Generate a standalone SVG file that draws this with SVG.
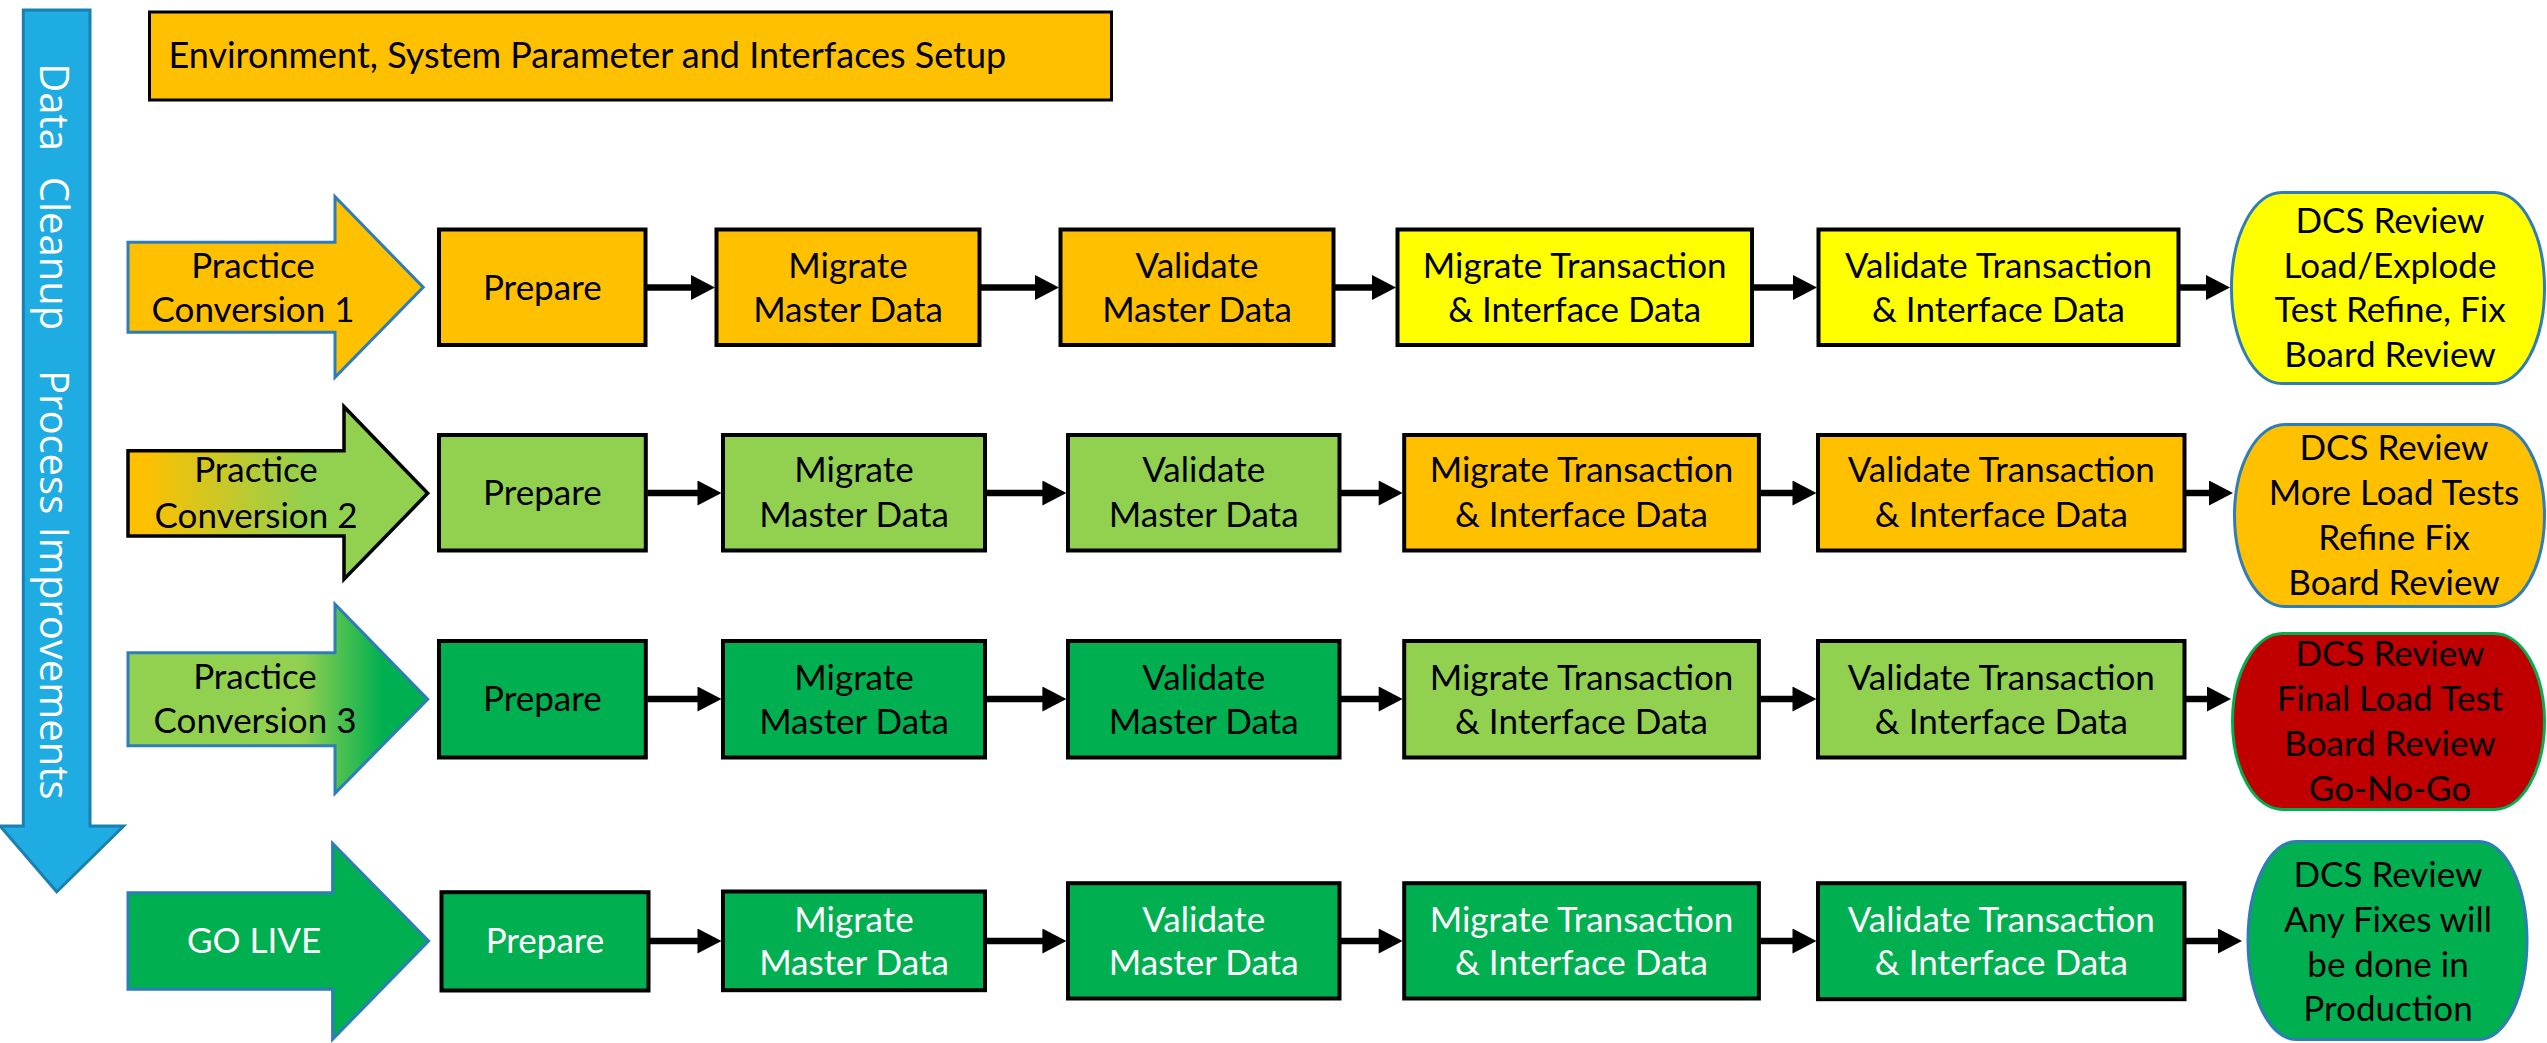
<svg xmlns="http://www.w3.org/2000/svg" width="2547" height="1043" viewBox="0 0 2547 1043">
<style>
.bx{stroke:#000;stroke-width:4}
.t{font-family:Lato,"Liberation Sans",sans-serif;font-size:35px;text-anchor:middle;fill:#000}
.w{fill:#fff}
.cn{stroke:#000;stroke-width:6.5;fill:none;marker-end:url(#ah)}
.or{fill:#FFC000}.ye{fill:#FFFF00}.lg{fill:#92D050}.dg{fill:#00B050}.rd{fill:#C00000}
.bl{stroke:#2E7DB8;stroke-width:3}
.gs{stroke:#00B050;stroke-width:3}
</style>
<defs>
<marker id="ah" markerUnits="userSpaceOnUse" markerWidth="25" markerHeight="25" viewBox="0 0 24 25" refX="1" refY="12.5" orient="auto"><path d="M0,0 L24,12.5 L0,25 z" fill="#000"/></marker>
<linearGradient id="g2" x1="0" y1="0" x2="1" y2="0"><stop offset="0.05" stop-color="#FFC000"/><stop offset="0.6" stop-color="#92D050"/></linearGradient>
<linearGradient id="g3" x1="0" y1="0" x2="1" y2="0"><stop offset="0.58" stop-color="#92D050"/><stop offset="0.85" stop-color="#00B050"/></linearGradient>
</defs>

<g id="cleanup-arrow">
<polygon points="23.3,10 90,10 90,826 123.7,826 56.7,891.7 0,826 23.3,826" fill="#1FACE3" stroke="#1A80B2" stroke-width="3"/>
<text transform="translate(39.5,63.3) rotate(90)" style="font-family:'Open Sans',Roboto,sans-serif;font-size:40px;fill:#fff"><tspan x="0">Data</tspan><tspan x="113.4">Cleanup</tspan><tspan x="306.7">Process</tspan><tspan x="463.4">Improvements</tspan></text>
</g>

<g id="setup">
<rect x="149.5" y="12" width="962" height="88" class="or" stroke="#000" stroke-width="3"/>
<text x="168.4" y="68.3" class="t" style="text-anchor:start;font-size:36px">Environment, System Parameter and Interfaces Setup</text>
</g>

<!-- Row 1 -->
<g id="pc1">
<polygon points="128,242.3 335,242.3 335,196.7 423.2,287.3 335,377.3 335,332.3 128,332.3" class="or bl"/>
<text class="t"><tspan x="253" y="277.7">Practice</tspan><tspan x="253" y="321.7">Conversion 1</tspan></text>
</g>
<g id="r1-prepare"><rect x="439" y="229.5" width="206.5" height="115.5" class="bx or"/><text x="542.3" y="299.5" class="t">Prepare</text></g>
<g id="r1-migrate"><rect x="716.5" y="229.5" width="263" height="115.5" class="bx or"/><text class="t"><tspan x="848" y="277.5">Migrate</tspan><tspan x="848" y="321.5">Master Data</tspan></text></g>
<g id="r1-validate"><rect x="1060.5" y="229.5" width="273" height="115.5" class="bx or"/><text class="t"><tspan x="1197" y="277.5">Validate</tspan><tspan x="1197" y="321.5">Master Data</tspan></text></g>
<g id="r1-migtrans"><rect x="1397.5" y="229.5" width="354.5" height="115.5" class="bx ye"/><text class="t"><tspan x="1574.7" y="277.5">Migrate Transaction</tspan><tspan x="1574.7" y="321.5">&amp; Interface Data</tspan></text></g>
<g id="r1-valtrans"><rect x="1818.5" y="229.5" width="360" height="115.5" class="bx ye"/><text class="t"><tspan x="1998.5" y="277.5">Validate Transaction</tspan><tspan x="1998.5" y="321.5">&amp; Interface Data</tspan></text></g>
<g id="r1-dcs"><rect x="2231.5" y="192.5" width="313" height="191" rx="50" ry="95" class="ye bl"/><text class="t"><tspan x="2390" y="233">DCS Review</tspan><tspan x="2390" y="277.5">Load/Explode</tspan><tspan x="2390" y="322">Test Refine, Fix</tspan><tspan x="2390" y="366.5">Board Review</tspan></text></g>

<!-- Row 2 -->
<g id="pc2">
<polygon points="128,450.7 344,450.7 344,406.7 427.7,493.3 344,579.3 344,536 128,536" fill="url(#g2)" stroke="#000" stroke-width="3.5"/>
<text class="t"><tspan x="256" y="482">Practice</tspan><tspan x="256" y="527.7">Conversion 2</tspan></text>
</g>
<g id="r2-prepare"><rect x="439" y="435" width="206.8" height="115.5" class="bx lg"/><text x="542.4" y="505" class="t">Prepare</text></g>
<g id="r2-migrate"><rect x="723" y="435" width="262" height="115.5" class="bx lg"/><text class="t"><tspan x="854" y="482">Migrate</tspan><tspan x="854" y="527">Master Data</tspan></text></g>
<g id="r2-validate"><rect x="1068" y="435" width="271.5" height="115.5" class="bx lg"/><text class="t"><tspan x="1203.7" y="482">Validate</tspan><tspan x="1203.7" y="527">Master Data</tspan></text></g>
<g id="r2-migtrans"><rect x="1404.2" y="435" width="354.7" height="115.5" class="bx or"/><text class="t"><tspan x="1581.5" y="482">Migrate Transaction</tspan><tspan x="1581.5" y="527">&amp; Interface Data</tspan></text></g>
<g id="r2-valtrans"><rect x="1818" y="435" width="366.5" height="115.5" class="bx or"/><text class="t"><tspan x="2001.3" y="482">Validate Transaction</tspan><tspan x="2001.3" y="527">&amp; Interface Data</tspan></text></g>
<g id="r2-dcs"><rect x="2234.5" y="424.5" width="310" height="182" rx="50" ry="91" class="or bl"/><text class="t"><tspan x="2394" y="460">DCS Review</tspan><tspan x="2394" y="505">More Load Tests</tspan><tspan x="2394" y="550">Refine Fix</tspan><tspan x="2394" y="595">Board Review</tspan></text></g>

<!-- Row 3 -->
<g id="pc3">
<polygon points="128,652.7 335,652.7 335,604.3 427.7,699.3 335,793.3 335,745.7 128,745.7" fill="url(#g3)" class="bl"/>
<text class="t"><tspan x="255" y="689.3">Practice</tspan><tspan x="255" y="733.3">Conversion 3</tspan></text>
</g>
<g id="r3-prepare"><rect x="439" y="641" width="206.8" height="116.5" class="bx dg"/><text x="542.4" y="711" class="t">Prepare</text></g>
<g id="r3-migrate"><rect x="723" y="641" width="262" height="116.5" class="bx dg"/><text class="t"><tspan x="854" y="690">Migrate</tspan><tspan x="854" y="733.5">Master Data</tspan></text></g>
<g id="r3-validate"><rect x="1068" y="641" width="271.5" height="116.5" class="bx dg"/><text class="t"><tspan x="1203.7" y="690">Validate</tspan><tspan x="1203.7" y="733.5">Master Data</tspan></text></g>
<g id="r3-migtrans"><rect x="1404.2" y="641" width="354.7" height="116.5" class="bx lg"/><text class="t"><tspan x="1581.5" y="690">Migrate Transaction</tspan><tspan x="1581.5" y="733.5">&amp; Interface Data</tspan></text></g>
<g id="r3-valtrans"><rect x="1818" y="641" width="366.5" height="116.5" class="bx lg"/><text class="t"><tspan x="2001.3" y="690">Validate Transaction</tspan><tspan x="2001.3" y="733.5">&amp; Interface Data</tspan></text></g>
<g id="r3-dcs"><rect x="2232.5" y="633.5" width="312" height="176" rx="50" ry="88" class="rd gs"/><text class="t"><tspan x="2390" y="666">DCS Review</tspan><tspan x="2390" y="711">Final Load Test</tspan><tspan x="2390" y="756">Board Review</tspan><tspan x="2390" y="801">Go-No-Go</tspan></text></g>

<!-- Row 4 -->
<g id="golive">
<polygon points="128,892.7 332.6,892.7 332.6,843.3 428.6,941 332.6,1039.3 332.6,989.3 128,989.3" class="dg bl"/>
<text x="254" y="953.3" class="t w">GO LIVE</text>
</g>
<g id="r4-prepare"><rect x="441.5" y="892.2" width="207" height="98.3" class="bx dg"/><text x="545" y="953" class="t w">Prepare</text></g>
<g id="r4-migrate"><rect x="723" y="891.5" width="262" height="98.7" class="bx dg"/><text class="t w"><tspan x="854" y="931.7">Migrate</tspan><tspan x="854" y="975">Master Data</tspan></text></g>
<g id="r4-validate"><rect x="1068" y="883.2" width="271.5" height="115.3" class="bx dg"/><text class="t w"><tspan x="1203.7" y="931.7">Validate</tspan><tspan x="1203.7" y="975">Master Data</tspan></text></g>
<g id="r4-migtrans"><rect x="1404.2" y="883.2" width="354.7" height="115.3" class="bx dg"/><text class="t w"><tspan x="1581.5" y="931.7">Migrate Transaction</tspan><tspan x="1581.5" y="975">&amp; Interface Data</tspan></text></g>
<g id="r4-valtrans"><rect x="1818" y="883.2" width="366.5" height="116" class="bx dg"/><text class="t w"><tspan x="2001.3" y="931.7">Validate Transaction</tspan><tspan x="2001.3" y="975">&amp; Interface Data</tspan></text></g>
<g id="r4-dcs"><rect x="2248" y="841.5" width="279" height="198" rx="48" ry="99" class="dg bl"/><text class="t"><tspan x="2388" y="886.7">DCS Review</tspan><tspan x="2388" y="931.5">Any Fixes will</tspan><tspan x="2388" y="976.5">be done in</tspan><tspan x="2388" y="1021">Production</tspan></text></g>

<g id="connectors">
<line x1="647" y1="287.5" x2="692" y2="287.5" class="cn"/>
<line x1="981" y1="287.5" x2="1036" y2="287.5" class="cn"/>
<line x1="1335" y1="287.5" x2="1373" y2="287.5" class="cn"/>
<line x1="1753.5" y1="287.5" x2="1794" y2="287.5" class="cn"/>
<line x1="2180" y1="287.5" x2="2207" y2="287.5" class="cn"/>

<line x1="647.3" y1="493" x2="698.5" y2="493" class="cn"/>
<line x1="986.4" y1="493" x2="1043.4" y2="493" class="cn"/>
<line x1="1341" y1="493" x2="1379.7" y2="493" class="cn"/>
<line x1="1760.4" y1="493" x2="1793.5" y2="493" class="cn"/>
<line x1="2186" y1="493" x2="2210" y2="493" class="cn"/>

<line x1="647.3" y1="699" x2="698.5" y2="699" class="cn"/>
<line x1="986.4" y1="699" x2="1043.4" y2="699" class="cn"/>
<line x1="1341" y1="699" x2="1379.7" y2="699" class="cn"/>
<line x1="1760.4" y1="699" x2="1793.5" y2="699" class="cn"/>
<line x1="2185.8" y1="699" x2="2208" y2="699" class="cn"/>

<line x1="650" y1="941" x2="698.5" y2="941" class="cn"/>
<line x1="986.4" y1="941" x2="1043.4" y2="941" class="cn"/>
<line x1="1341" y1="941" x2="1379.7" y2="941" class="cn"/>
<line x1="1760.4" y1="941" x2="1793.5" y2="941" class="cn"/>
<line x1="2185.8" y1="941" x2="2219" y2="941" class="cn"/>
</g>
</svg>
